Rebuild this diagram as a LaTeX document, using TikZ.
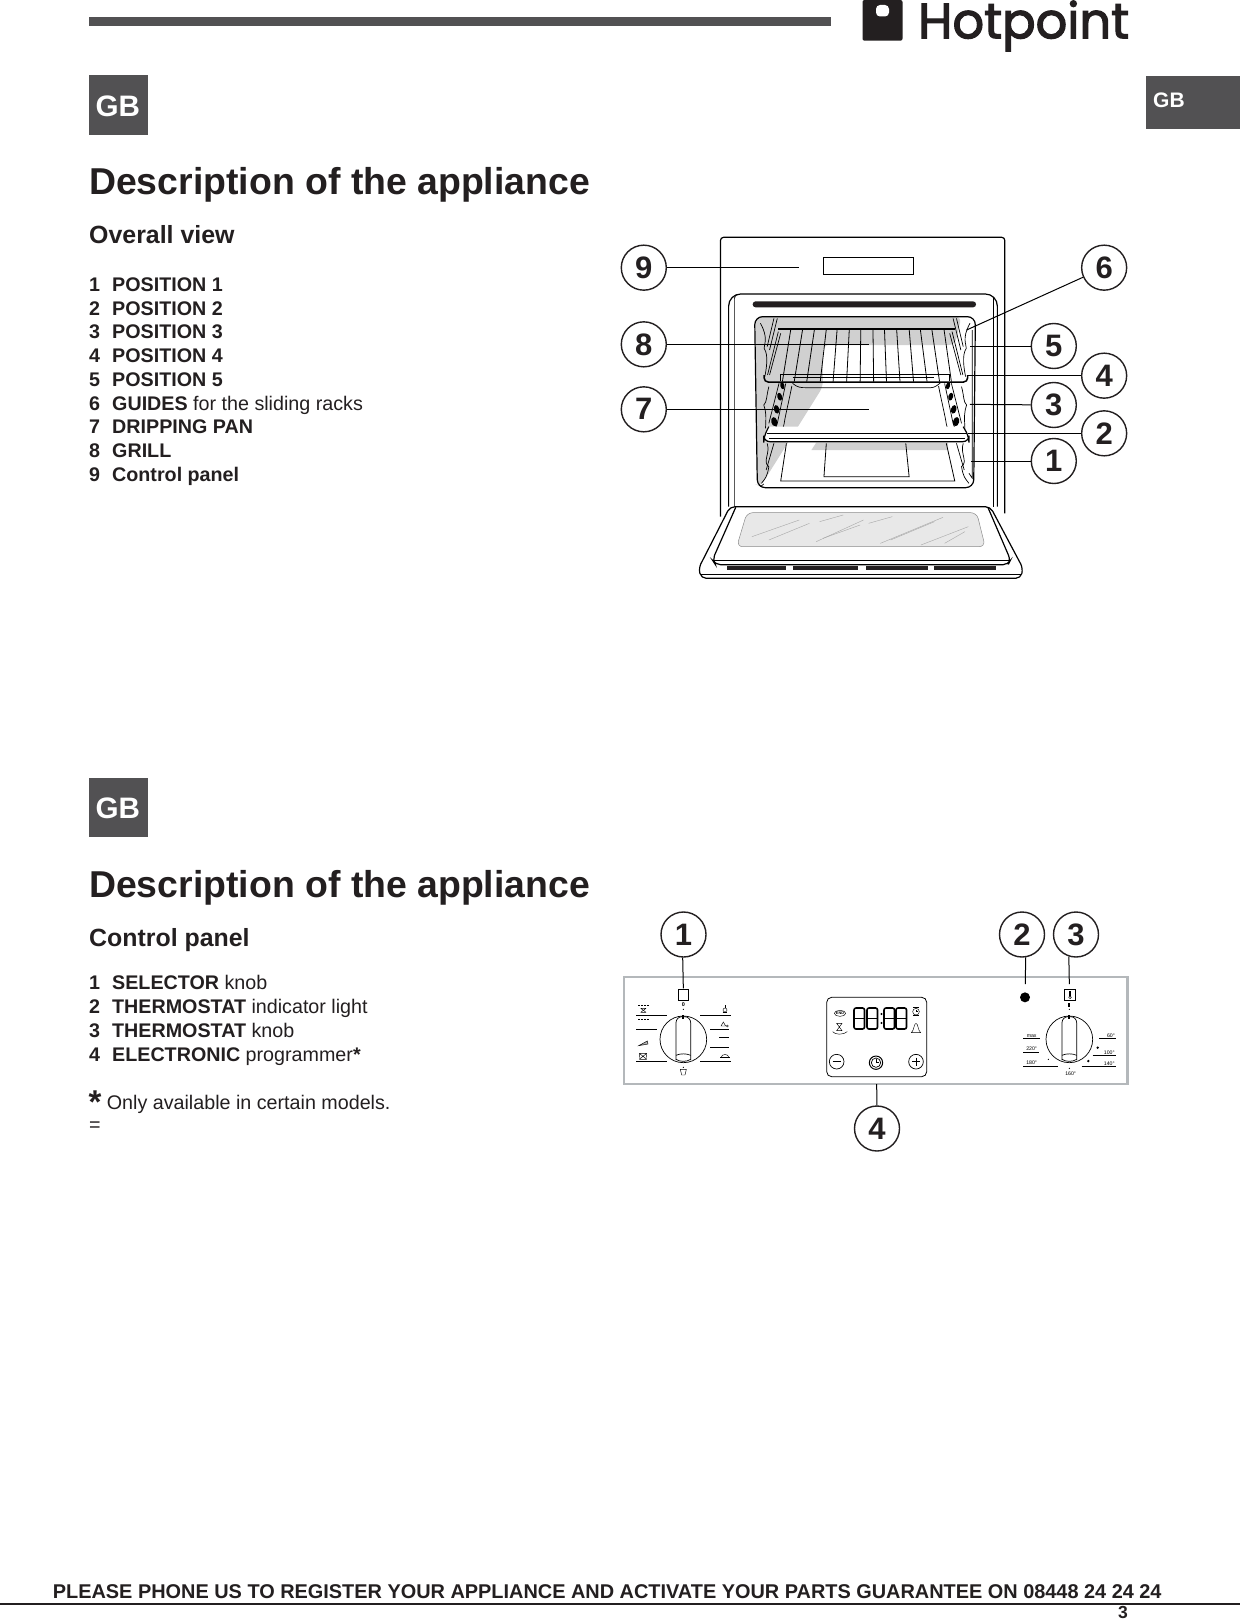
\documentclass[tikz,border=0pt]{standalone}
\usepackage{fontspec}
\setmainfont{Liberation Sans}
\newfontfamily\logofont[FakeBold=2.4]{Poppins}
\definecolor{ink}{HTML}{231F20}
\definecolor{tabgrey}{HTML}{525153}
\definecolor{ovengrey}{HTML}{D0D0D0}
\definecolor{glass}{HTML}{E8E8E8}
\definecolor{panelgrey}{HTML}{B4B8BB}
\newcommand{\fs}[1]{\fontsize{#1}{#1}\selectfont}
\newcommand{\sevenseg}[2]{\draw[segline] (#1,#2) rectangle ++(10.5,21); \draw[segline] (#1,#2+10.5) -- ++(10.5,0);}
\newcommand{\knob}[2]{%
  \draw[knobline] (#1,#2) circle (70);
  \draw[knobline,rounded corners=6] (#1-22,#2+62) -- (#1-22,#2-68) -- (#1+22,#2-68) -- (#1+22,#2+62);
  \draw[knobline] (#1-22,#2+48) .. controls (#1-10,#2+42) and (#1+10,#2+42) .. (#1+22,#2+48);
  \draw[knobline] (#1-22,#2+60) .. controls (#1-10,#2+68) and (#1+10,#2+68) .. (#1+22,#2+60);
  \fill (#1-3,#2-72) rectangle (#1+3,#2-62);
}
\newcommand{\guideside}{%
  \draw[thinline] (445,310) .. controls (470,355) and (455,375) .. (456,385) .. controls (470,405) and (462,450) .. (458,470);
  \draw[thinline] (470,500) .. controls (462,530) and (465,545) .. (455,555) .. controls (462,575) and (462,590) .. (460,625);
  \draw[thinline] (465,670) .. controls (475,700) and (450,725) .. (470,740) .. controls (465,770) and (460,775) .. (448,790);
  \draw[thinline] (485,295) -- (465,380);
  \draw[thinline] (495,295) -- (472,390);
  \draw[thinline] (498,335) -- (466,465);
  \draw[thinline] (505,340) -- (472,465);
  \draw[thinline] (500,490) -- (470,610);
  \draw[thinline] (520,490) -- (495,610) .. controls (492,622) and (488,628) .. (475,632);
  \draw[thinline] (538,498) .. controls (530,540) and (518,590) .. (515,612) .. controls (514,625) and (505,630) .. (495,635);
  \draw[thinline] (485,670) -- (462,750);
  \foreach \dx/\dy/\da/\db in {510/497/6/11, 502/530/7/12, 493/568/8/13, 486/605/9/14}
    \fill (\dx,\dy) ellipse[x radius=\da, y radius=\db, rotate=14];
}
\tikzset{
  heading/.style={anchor=base west,inner sep=0,text=ink,font=\fs{37.4}\bfseries},
  subhead/.style={anchor=base west,inner sep=0,text=ink,font=\fs{24.9}\bfseries},
  item/.style={anchor=base west,inner sep=0,text=ink,font=\fs{19.7}},
  tabtext/.style={anchor=base west,inner sep=0,text=white,font=\bfseries},
  callout/.style={circle,draw=ink,line width=1.4,fill=white,minimum size=45,inner sep=0,text=ink,font=\fs{31}\bfseries},
  leader/.style={draw=black,line width=1},
  frameline/.style={draw=black,line width=1.2},
  thinline/.style={draw=black,line width=.7},
  knobline/.style={draw=black,line width=.7},
  wireline/.style={draw=black,line width=.8},
  segline/.style={draw=black,line width=1.6,rounded corners=2},
  tiny/.style={inner sep=0,font=\fs{5.2},text=black},
  iconline/.style={draw=black,line width=.45},
}
\begin{document}
\begin{tikzpicture}[x=1pt,y=-1pt]
\useasboundingbox (0,0) rectangle (1240,1619);
\fill[white] (0,0) rectangle (1240,1619);

% header
\fill[tabgrey] (89,17.5) rectangle (831,25.8);
\fill[ink,rounded corners=2] (862.5,0) rectangle (902.5,40.7);
\fill[white,rounded corners=4] (876,5) rectangle (889,16.5);
\node[anchor=base west,inner sep=0,text=ink,font=\logofont\fs{49.5}] (logo) at (918,38.3) {Hotpoint};
\fill[tabgrey] (1146,76) rectangle (1240,129);
\node[tabtext,font=\fs{21}\bfseries] (tabgb) at (1153,107.2) {GB};

% section 1
\fill[tabgrey] (89,75.4) rectangle (147.6,135);
\node[tabtext,font=\fs{29.6}\bfseries] (gba) at (95.5,116) {GB};
\node[heading] (h1) at (89,194.3) {Description of the appliance};
\node[subhead] (s1) at (89,243.7) {Overall view};
\foreach \n/\t [count=\i from 0] in {1/{\bfseries POSITION 1},2/{\bfseries POSITION 2},3/{\bfseries POSITION 3},4/{\bfseries POSITION 4},5/{\bfseries POSITION 5},6/{\bfseries GUIDES} for the sliding racks,7/{\bfseries DRIPPING PAN},8/{\bfseries GRILL},9/{\bfseries Control panel}}{
  \node[item,font=\fs{19.7}\bfseries] (an\n) at (89,291.5+23.7*\i) {\n};
  \node[item] (at\n) at (112,291.5+23.7*\i) {\t};
}

% section 2
\fill[tabgrey] (89,778) rectangle (147.6,837.4);
\node[tabtext,font=\fs{29.6}\bfseries] (gbb) at (95.5,818.5) {GB};
\node[heading] (h2) at (89,897.7) {Description of the appliance};
\node[subhead] (s2) at (89,946) {Control panel};
\foreach \n/\t [count=\i from 0] in {1/{\bfseries SELECTOR} knob,2/{\bfseries THERMOSTAT} indicator light,3/{\bfseries THERMOSTAT} knob,4/{\bfseries ELECTRONIC} programmer{\bfseries *}}{
  \node[item,font=\fs{19.7}\bfseries] (bn\n) at (89,989.3+23.9*\i) {\n};
  \node[item] (bt\n) at (112,989.3+23.9*\i) {\t};
}
\node[item,font=\fs{33}\bfseries,text depth=0pt,text height=16pt] (star) at (88.5,1113) {*};
\node[item] (only) at (106.7,1109) {Only available in certain models.};
\node[item,text height=8pt] (eq) at (89,1131.5) {=};

% footer
\draw[ink,line width=1.6] (0,1603.7) -- (1240,1603.7);
\node[anchor=base west,inner sep=0,text=ink,font=\fs{19.9}\bfseries] (foot) at (52.7,1598) {PLEASE PHONE US TO REGISTER YOUR APPLIANCE AND ACTIVATE YOUR PARTS GUARANTEE ON 08448 24 24 24};
\node[anchor=base west,inner sep=0,text=ink,font=\fs{17.5}\bfseries,text height=12pt] (pg) at (1118,1618.3) {3};

% oven (coordinates of a 3x view)
\begin{scope}[shift={(610,220)},x=0.338pt,y=-1/3*1pt]
  \draw[frameline,rounded corners=3] (327,890) -- (327,52) -- (1168,52) -- (1168,880);
  \draw[frameline] (632,112) rectangle (897,163);
  \draw[frameline,rounded corners=12] (351,860) -- (351,222) -- (1146,222) -- (1146,860);
  \draw[thinline] (368,860) -- (368,235) .. controls (368,228) and (372,224) .. (385,223);
  \draw[thinline] (1135,860) -- (1135,234);
  \fill[ink,rounded corners=3] (422,244) rectangle (1083,262);
  % cavity
  \fill[ovengrey,rounded corners=6] (430,290) -- (1040,290) -- (1020,375) -- (630,375) -- (630,500) -- (445,800) -- (435,795) -- cycle;
  \fill[ovengrey] (610,668) -- (1000,668) -- (1000,690) -- (596,690) -- cycle;
  \draw[frameline,rounded corners=8] (428,290) -- (1081,290) -- (1076,803) -- (436,803) -- cycle;
  \draw[thinline] (445,800) -- (455,792);
  \draw[thinline] (1072,330) -- (1072,775) -- (1062,760);
  \guideside
  \begin{scope}[shift={(1510,0)},xscale=-1]
    \guideside
  \end{scope}
  % floor
  \draw[wireline] (522,670) -- (505,783) -- (1020,783) -- (995,670);
  \draw[wireline] (640,670) -- (633,770) -- (885,770) -- (875,670);
  % pan lip
  \draw[frameline,fill=white,rounded corners=6] (470,620) -- (455,650) -- (455,665) -- (1062,665) -- (1062,650) -- (1045,620);
  \draw[frameline] (465,640) -- (1055,640);
  \draw[thinline] (470,656) -- (1050,656);
  % pan rear edge
  \draw[thinline] (540,490) .. controls (555,503) and (565,503) .. (580,503) -- (950,503) .. controls (960,503) and (970,495) .. (978,488);
  % rack
  \draw[frameline] (498,327) -- (1020,327);
  \foreach \a/\b in {535/510,570/545,605/582,640/622,672/660,708/700,742/740,778/780,812/818,848/858,885/898,918/938,952/975,988/1010}
    \draw[wireline] (\a,327) -- (\b,485);
  \draw[thinline] (505,463) -- (1005,463);
  \draw[thinline] (505,463) -- (505,482);
  \draw[thinline] (1005,463) -- (1005,482);
  \draw[thinline] (540,473) -- (960,473);
  \draw[line width=1.5,rounded corners=4] (456,465) -- (456,486) -- (1058,486) -- (1058,465);
  % door
  \draw[frameline,fill=white,rounded corners=5] (355,860) -- (262,1045) -- (270,1075) -- (1215,1075) -- (1222,1045) -- (1125,860) -- cycle;
  \draw[thinline] (270,1062) -- (1215,1062);
  \draw[frameline,rounded corners=5] (372,862) -- (303,1020) -- (312,1034) -- (1178,1034) -- (1185,1020) -- (1118,862);
  \draw[thinline] (305,1022) -- (1183,1022);
  \fill[glass,rounded corners=6] (405,878) -- (1085,878) -- (1110,980) -- (375,980) -- cycle;
  \draw[black!45,line width=.5,rounded corners=6] (405,878) -- (1085,878) -- (1110,980) -- (375,980) -- cycle;
  \foreach \ax/\ay/\bx/\by in {420/950/560/900, 470/960/590/910, 610/965/750/900, 630/955/740/915, 800/970/985/892, 830/960/960/905, 920/975/1060/920, 990/970/1050/935, 620/905/690/885, 765/910/835/890}
    \draw[black!35,line width=.4] (\ax,\ay) -- (\bx,\by);
  \fill[ink] (345,1037) rectangle (520,1050);
  \fill[ink] (542,1037) rectangle (733,1050);
  \fill[ink] (758,1037) rectangle (942,1050);
  \fill[ink] (960,1037) rectangle (1143,1050);
  % call-outs
  \node[callout] (o9) at (100,143) {9};
  \node[callout] (o8) at (100,373) {8};
  \node[callout] (o7) at (100,568) {7};
  \node[callout] (o6) at (1462,143) {6};
  \node[callout] (o5) at (1313,378) {5};
  \node[callout] (o4) at (1462,467) {4};
  \node[callout] (o3) at (1313,555) {3};
  \node[callout] (o2) at (1462,640) {2};
  \node[callout] (o1) at (1313,723) {1};
  \coordinate (t9) at (558,143);
  \coordinate (t8) at (765,373);
  \coordinate (t7) at (765,568);
  \coordinate (t6) at (1055,330);
  \coordinate (t5) at (1065,378);
  \coordinate (t4) at (1060,467);
  \coordinate (t3) at (1065,553);
  \coordinate (t2) at (1060,640);
  \coordinate (t1) at (1068,723);
  \foreach \k in {9,8,7,6,5,4,3,2,1}
    \draw[leader] (o\k) -- (t\k);
\end{scope}

% control panel
\draw[panelgrey,line width=2.4] (624,976.7) rectangle (1127.3,1084);
% left part (coordinates of a 3x view)
\begin{scope}[shift={(610,960)},x=1/3*1pt,y=-1/3*1pt]
  \draw[thinline,line width=.8] (204,88) rectangle (236,120);
  \coordinate (p1) at (220,85);
  \knob{220}{238}
  \node[tiny,font=\fs{5.5}\bfseries] (k0) at (220,133) {0};
  \fill (220,148) circle (1.8);
  \foreach \a/\b/\c/\d in {78/165/172/165,78/208/142/208,78/303/172/303,270/165/362/165,300/208/358/208,328/232/358/232,300/262/358/262,270/303/362/303}
    \draw[thinline] (\a,\b) -- (\c,\d);
  % grill
  \draw[iconline] (92,145) -- (108,157) (108,145) -- (92,157) (92,145) -- (108,145) (92,157) -- (108,157);
  \draw[iconline,densely dotted] (84,137) -- (116,137) (84,178) -- (116,178);
  % pizza
  \draw[iconline,fill=black!30] (86,257) -- (112,243) -- (114,252) -- cycle;
  % fan
  \draw[iconline] (88,280) -- (110,298) (110,280) -- (88,298) (90,280) -- (108,280) (90,298) -- (108,298);
  \draw[iconline] (88,280) -- (90,298) (110,280) -- (108,298);
  % lamp
  \draw[iconline] (345,150) circle (6);
  \draw[iconline] (345,143) -- (345,136) (338,158) -- (352,158);
  % drop
  \draw[iconline] (340,186) -- (333,198) -- (347,198) -- cycle (352,198) circle (3);
  % dome
  \draw[iconline] (333,293) .. controls (335,280) and (355,280) .. (357,293) -- cycle;
  \draw[iconline] (330,293) -- (360,293);
  % cup
  \draw[iconline] (211,328) -- (215,345) -- (225,345) -- (229,328) -- cycle;
  \fill (220,322) circle (1.8);
  % display, left icons and buttons
  \draw[iconline] (690,160) ellipse[x radius=17,y radius=9];
  \node[tiny,font=\fs{3.8}\bfseries] (endtxt) at (690,160) {END};
  \draw[iconline] (680,190) -- (696,190) -- (680,212) -- (696,212) -- cycle;
  \draw[iconline] (668,215) .. controls (675,225) and (700,225) .. (712,215);
  \draw[thinline] (680,305) circle (22);
  \draw[thinline] (668,305) -- (692,305);
  \draw[thinline,line width=1] (798,308) circle (20);
  \draw[thinline] (798,308) circle (14);
  \draw[thinline] (798,298) -- (798,308) -- (806,308);
\end{scope}
\draw[thinline,line width=.8,rounded corners=5] (826.7,997.3) rectangle (926.7,1076.7);
\sevenseg{854}{1008}
\sevenseg{867}{1008}
\fill (881.5,1014) circle (1.1) (881.5,1023) circle (1.1);
\sevenseg{884}{1008}
\sevenseg{896}{1008}
% right part (coordinates of a 3x view)
\begin{scope}[shift={(880,960)},x=1/3*1pt,y=-1/3*1pt]
  \draw[iconline] (108,155) circle (10);
  \draw[iconline,line width=.8] (100,143) -- (116,143) (100,167) -- (116,167);
  \draw[iconline] (108,155) -- (108,149) (108,155) -- (113,155);
  \draw[iconline] (94,218) .. controls (102,212) and (102,190) .. (108,190) .. controls (114,190) and (114,212) .. (122,218) -- cycle;
  \draw[thinline] (108,305) circle (22);
  \draw[thinline] (96,305) -- (120,305) (108,293) -- (108,317);
  \fill (435,112) circle (15);
  \coordinate (p2) at (436,72);
  \coordinate (p3) at (568,72);
  \draw[thinline,line width=.8] (552,88) rectangle (585,120);
  \draw[iconline] (568,93) -- (568,108);
  \draw[iconline] (572,93) -- (572,108);
  \draw[iconline] (570,112) circle (4);
  \knob{568}{238}
  \fill (565,128) rectangle (571,140);
  \fill (568,148) circle (1.8);
  \foreach \a/\b/\c/\d in {430/235/480/235,430/277/478/277,430/318/535/318,658/235/708/235,638/286/708/286,605/318/708/318}
    \draw[thinline] (\a,\b) -- (\c,\d);
  \fill (653,263) circle (4) (625,303) circle (4) (505,298) circle (2) (568,325) circle (2);
  \node[tiny] (tmax) at (455,227) {max};
  \node[tiny] (t220) at (455,267) {220°};
  \node[tiny] (t180) at (455,309) {180°};
  \node[tiny] (t60) at (693,228) {60°};
  \node[tiny] (t100) at (688,277) {100°};
  \node[tiny] (t140) at (688,310) {140°};
  \node[tiny] (t160) at (572,342) {160°};
\end{scope}
% panel call-outs
\coordinate (p4) at (876.7,1084);
\node[callout] (c1) at (683.5,934.5) {1};
\node[callout] (c2) at (1022,934.5) {2};
\node[callout] (c3) at (1076,934.5) {3};
\node[callout] (c4) at (877,1128.5) {4};
\draw[leader] (c1.268) -- (p1);
\draw[leader] (c2.279) -- (p2);
\draw[leader] (c3.252) -- (p3);
\draw[leader] (c4) -- (p4);
\end{tikzpicture}
\end{document}
